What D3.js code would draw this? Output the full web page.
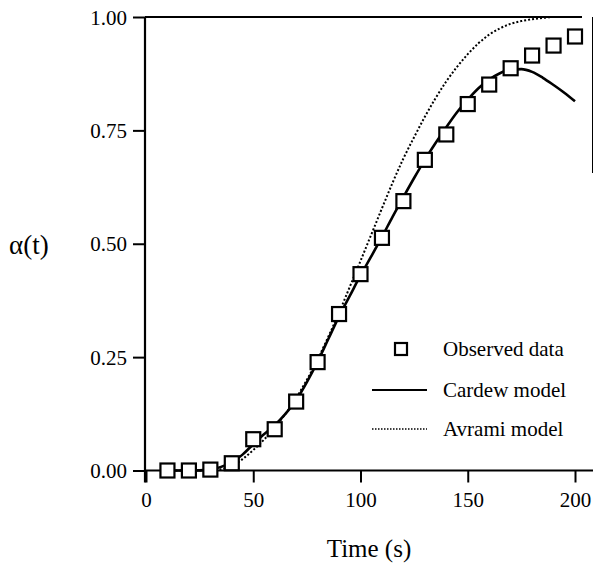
<!DOCTYPE html>
<html>
<head>
<meta charset="utf-8">
<script src="https://cdn.jsdelivr.net/npm/d3@7"></script>
<style>
  html, body { margin: 0; padding: 0; background: #fff; }
  svg { display: block; }
  svg text { font-family: "Liberation Serif", "Times New Roman", Times, "DejaVu Serif", serif !important; fill: #000; }
</style>
</head>
<body>
<svg id="chart" width="593" height="563"></svg>
<script>
// ---- data ----
const obsTimes = [10, 20, 30, 40, 50, 60, 70, 80, 90, 100, 110, 120, 130, 140, 150, 160, 170, 180, 190, 200];
const observed = [0.000, 0.000, 0.002, 0.016, 0.069, 0.091, 0.152, 0.239, 0.345, 0.433, 0.513, 0.594, 0.685, 0.741, 0.808, 0.851, 0.887, 0.915, 0.937, 0.957];

const cardewTimes = [10, 20, 30, 35, 40, 45, 50, 55, 60, 65, 70, 75, 80, 85, 90, 95, 100, 105, 110, 115, 120, 125, 130, 135, 140, 145, 150, 155, 160, 165, 170, 175, 180, 185, 190, 195, 200];
const cardew = [0.000, 0.000, 0.002, 0.008, 0.018, 0.035, 0.058, 0.080, 0.100, 0.125, 0.155, 0.195, 0.240, 0.290, 0.340, 0.385, 0.430, 0.472, 0.515, 0.560, 0.603, 0.645, 0.685, 0.722, 0.757, 0.790, 0.818, 0.843, 0.862, 0.876, 0.884, 0.885, 0.879, 0.866, 0.850, 0.833, 0.814];

const avramiTimes = [10, 20, 30, 35, 40, 45, 50, 55, 60, 65, 70, 75, 80, 85, 90, 95, 100, 105, 110, 115, 120, 125, 130, 135, 140, 145, 150, 155, 160, 165, 170, 175, 180, 185, 190, 195, 200];
const avrami = [0.000, 0.000, 0.000, 0.003, 0.010, 0.025, 0.045, 0.068, 0.095, 0.125, 0.160, 0.200, 0.245, 0.295, 0.348, 0.405, 0.462, 0.520, 0.578, 0.635, 0.688, 0.735, 0.780, 0.821, 0.858, 0.890, 0.918, 0.942, 0.961, 0.975, 0.985, 0.991, 0.995, 0.998, 1.000, 1.000, 1.000];

const xTicks = [0, 50, 100, 150, 200];
const yTicks = [0, 0.25, 0.5, 0.75, 1.0];
const legendLabels = ["Observed data", "Cardew model", "Avrami model"];

// ---- chart ----
const FONT = '"Liberation Serif", "Times New Roman", Times, "DejaVu Serif", serif';
const svg = d3.select("#chart");
const x = d3.scaleLinear().domain([0, 200]).range([146, 575]);
const y = d3.scaleLinear().domain([0, 1]).range([470.5, 17]);

// frame lines
const frame = svg.append("g").attr("stroke", "#000").attr("fill", "none");
frame.append("line").attr("x1", x(0) - 1).attr("x2", x(0) - 1)
  .attr("y1", y(1)).attr("y2", y(0) + 12).attr("stroke-width", 2.2);
frame.append("line").attr("x1", x(0) - 1).attr("x2", 582)
  .attr("y1", y(1)).attr("y2", y(1)).attr("stroke-width", 2.2);
frame.append("line").attr("x1", x(0) - 1).attr("x2", 593)
  .attr("y1", y(0)).attr("y2", y(0)).attr("stroke-width", 2.2);
frame.append("line").attr("x1", 592.5).attr("x2", 592.5)
  .attr("y1", y(1)).attr("y2", 173).attr("stroke-width", 1);

// y axis
const yAxis = d3.axisLeft(y).tickValues(yTicks).tickFormat(d3.format(".2f"))
  .tickSize(12).tickPadding(6);
const gy = svg.append("g").attr("transform", `translate(${x(0) - 1},0)`).call(yAxis)
  .attr("font-family", FONT);
gy.select(".domain").remove();
gy.selectAll(".tick line").attr("stroke", "#000").attr("stroke-width", 2);
gy.selectAll(".tick text").attr("font-size", 21).attr("dy", "0.34em");

// x axis
const xAxis = d3.axisBottom(x).tickValues(xTicks).tickFormat(d3.format("d"))
  .tickSize(12).tickPadding(10);
const gx = svg.append("g").attr("transform", `translate(0,${y(0)})`).call(xAxis)
  .attr("font-family", FONT);
gx.select(".domain").remove();
gx.selectAll(".tick line").attr("stroke", "#000").attr("stroke-width", 2);
gx.selectAll(".tick text").attr("font-size", 21);

// axis titles
svg.append("text").attr("x", 369).attr("y", 557).attr("text-anchor", "middle")
  .attr("font-family", FONT).attr("font-size", 25).text("Time (s)");
svg.append("text").attr("x", 9).attr("y", 254).attr("text-anchor", "start")
  .attr("font-family", FONT).attr("font-size", 27).text("α(t)");

// lines
const line = d3.line().x(d => x(d[0])).y(d => y(d[1])).curve(d3.curveMonotoneX);
svg.append("path")
  .datum(avramiTimes.map((t, i) => [t, avrami[i]]))
  .attr("d", line).attr("fill", "none").attr("stroke", "#000")
  .attr("stroke-width", 2).attr("stroke-dasharray", "2,2");
svg.append("path")
  .datum(cardewTimes.map((t, i) => [t, cardew[i]]))
  .attr("d", line).attr("fill", "none").attr("stroke", "#000")
  .attr("stroke-width", 2.6);

// squares
const sz = 14;
svg.append("g").selectAll("rect")
  .data(obsTimes.map((t, i) => [t, observed[i]]))
  .join("rect")
  .attr("x", d => x(d[0]) - sz / 2).attr("y", d => y(d[1]) - sz / 2)
  .attr("width", sz).attr("height", sz)
  .attr("fill", "#fff").attr("stroke", "#000").attr("stroke-width", 2.2);

// legend
const lg = svg.append("g");
const rows = [349, 390, 429];
lg.append("rect").attr("x", 401 - 6).attr("y", rows[0] - 6).attr("width", 12).attr("height", 12)
  .attr("fill", "#fff").attr("stroke", "#000").attr("stroke-width", 2.2);
lg.append("line").attr("x1", 372).attr("x2", 427).attr("y1", rows[1]).attr("y2", rows[1])
  .attr("stroke", "#000").attr("stroke-width", 2.2);
lg.append("line").attr("x1", 372).attr("x2", 427).attr("y1", rows[2]).attr("y2", rows[2])
  .attr("stroke", "#000").attr("stroke-width", 1.5).attr("stroke-dasharray", "1.5,1.5");
lg.selectAll("text.lab").data(legendLabels).join("text")
  .attr("class", "lab").attr("x", 443).attr("y", (d, i) => rows[i]).attr("dy", "0.33em")
  .attr("font-family", FONT).attr("font-size", 21).text(d => d);
</script>
</body>
</html>
